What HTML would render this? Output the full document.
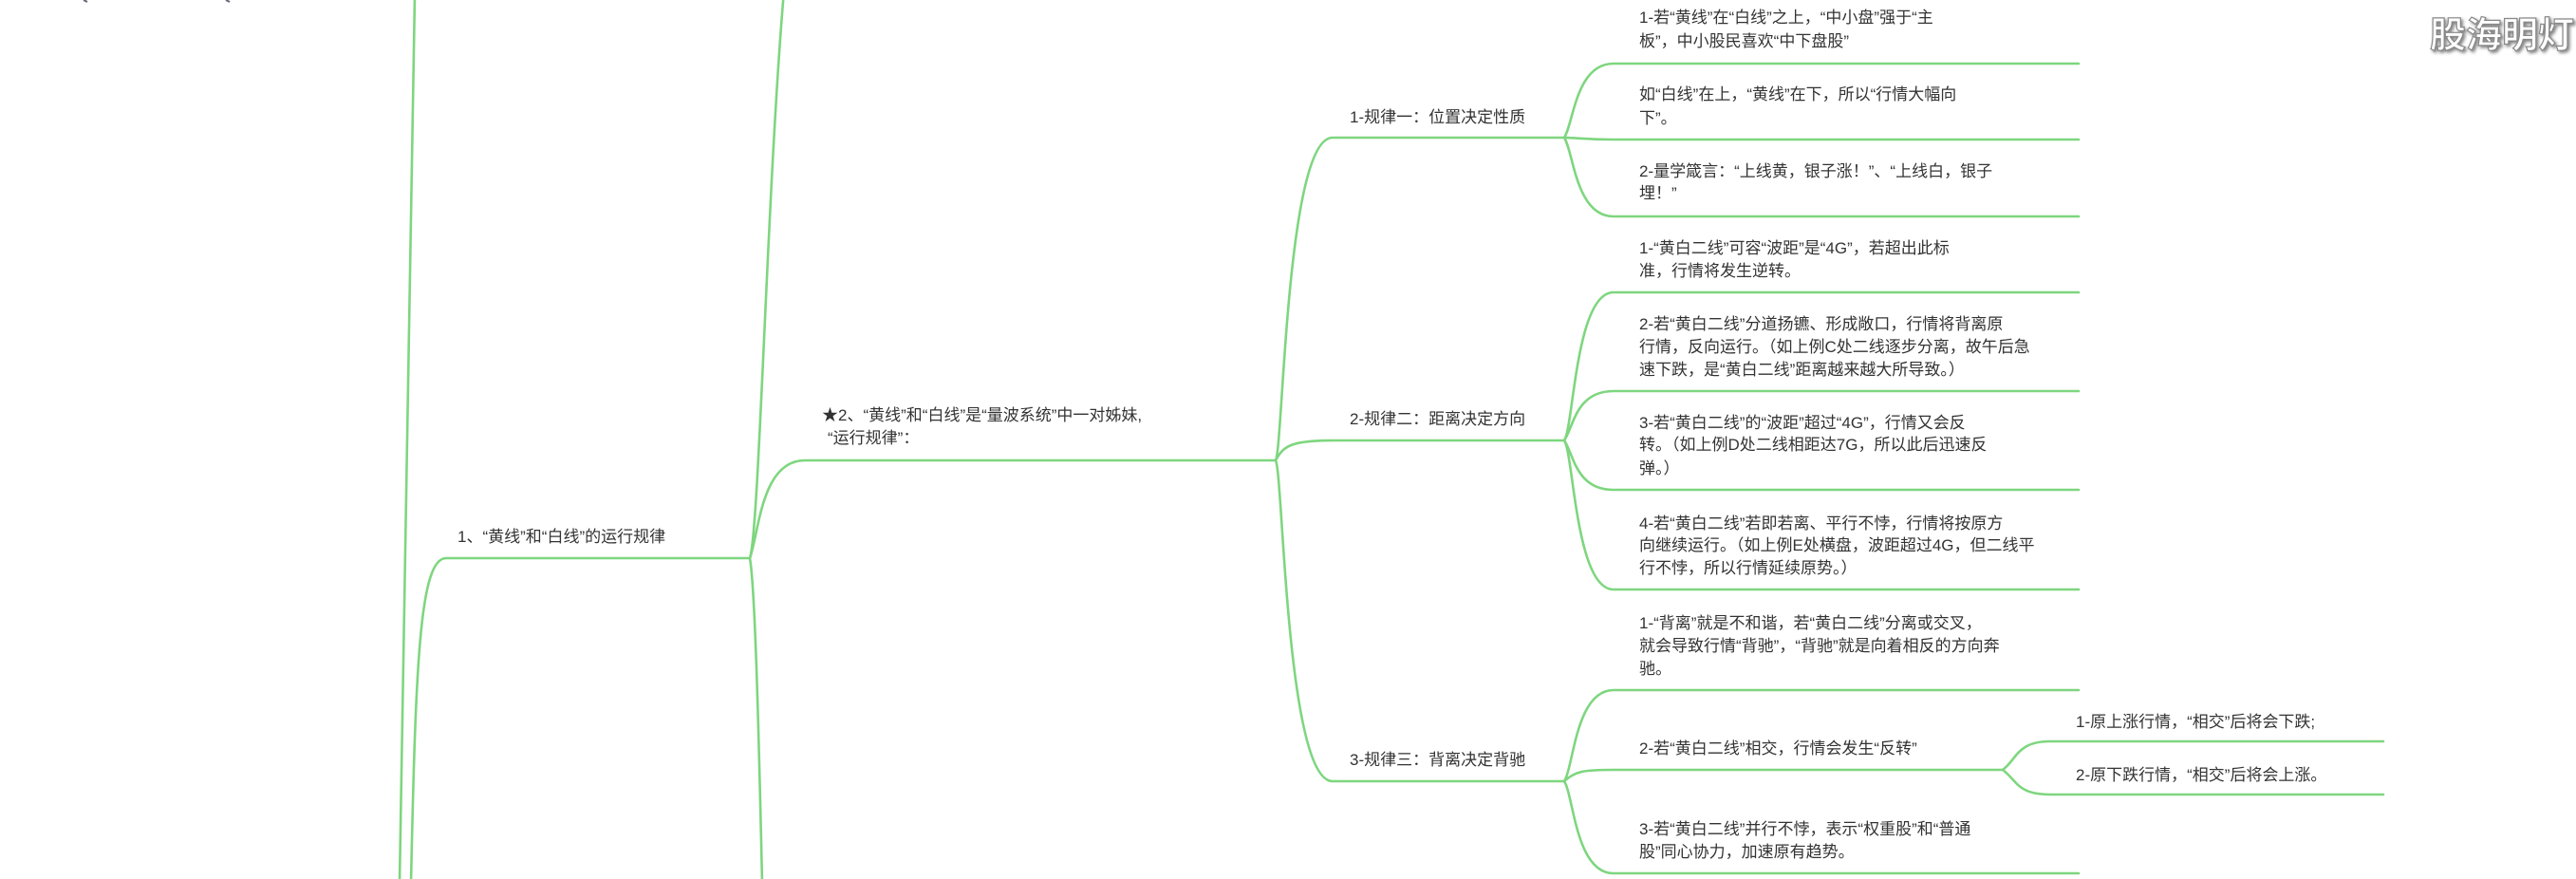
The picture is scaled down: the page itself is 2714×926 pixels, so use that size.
<!DOCTYPE html>
<html><head><meta charset="utf-8"><style>
html,body{margin:0;padding:0;background:#fff;}
svg{display:block;}
text{font-family:"Liberation Sans","Noto Sans CJK SC",sans-serif;font-size:17px;fill:#333;}
.logo{font-family:"Noto Sans CJK SC","WenQuanYi Zen Hei",sans-serif;font-size:38px;font-weight:bold;fill:#fff;stroke:#888;stroke-width:1.2px;}
</style></head><body>
<svg width="2714" height="926" viewBox="0 0 2714 926" xmlns="http://www.w3.org/2000/svg">
<defs><filter id="sh"><feDropShadow dx="2" dy="2" stdDeviation="1.5" flood-color="#666" flood-opacity="0.8"/></filter></defs>
<g fill="none" stroke="#7ed67f" stroke-width="2.6" stroke-linecap="round">
<!-- left trunk -->
<path d="M437 -5 L421 930"/>
<!-- node1 -->
<path d="M433 930 C438 700 442 588 470 588 L790 588"/>
<!-- node2 trunk -->
<path d="M790 588 C800 560 808 200 826 -10"/>
<path d="M790 588 C796 620 800 800 803 930"/>
<path d="M790 588 C800 560 802 485 848 485 L1344 485"/>
<!-- rules -->
<path d="M1344 485 C1352 470 1355 145 1404 145 L1648 145"/>
<path d="M1344 485 C1352 470 1360 464 1404 464 L1648 464"/>
<path d="M1344 485 C1352 500 1355 823 1404 823 L1648 823"/>
<!-- rule1 leaves -->
<path d="M1648 145 C1658 130 1660 67 1700 67 L2190 67"/>
<path d="M1648 145 C1660 145 1670 147 1700 147 L2190 147"/>
<path d="M1648 145 C1658 160 1660 228 1700 228 L2190 228"/>
<!-- rule2 leaves -->
<path d="M1648 464 C1658 450 1660 308 1700 308 L2190 308"/>
<path d="M1648 464 C1658 450 1660 412 1700 412 L2190 412"/>
<path d="M1648 464 C1658 478 1660 516 1700 516 L2190 516"/>
<path d="M1648 464 C1658 478 1660 621 1700 621 L2190 621"/>
<!-- rule3 leaves -->
<path d="M1648 823 C1658 808 1660 727 1700 727 L2190 727"/>
<path d="M1648 823 C1660 812 1670 811 1700 811 L2110 811"/>
<path d="M1648 823 C1658 838 1660 920 1700 920 L2190 920"/>
<!-- sub leaves -->
<path d="M2110 811 C2125 800 2125 781 2160 781 L2511 781"/>
<path d="M2110 811 C2125 822 2125 837 2160 837 L2511 837"/>
</g>
<text x="482" y="571">1、“黄线”和“白线”的运行规律</text>
<text x="866" y="443">★2、“黄线”和“白线”是“量波系统”中一对姊妹,</text>
<text x="872" y="467">“运行规律”：</text>
<text x="1422" y="129">1-规律一：位置决定性质</text>
<text x="1422" y="447">2-规律二：距离决定方向</text>
<text x="1422" y="806">3-规律三：背离决定背驰</text>

<text x="1727" y="24">1-若“黄线”在“白线”之上，“中小盘”强于“主</text>
<text x="1727" y="49">板”，中小股民喜欢“中下盘股”</text>
<text x="1727" y="105">如“白线”在上，“黄线”在下，所以“行情大幅向</text>
<text x="1727" y="130">下”。</text>
<text x="1727" y="186">2-量学箴言：“上线黄，银子涨！”、“上线白，银子</text>
<text x="1727" y="209">埋！”</text>

<text x="1727" y="267">1-“黄白二线”可容“波距”是“4G”，若超出此标</text>
<text x="1727" y="291">准，行情将发生逆转。</text>
<text x="1727" y="347">2-若“黄白二线”分道扬镳、形成敞口，行情将背离原</text>
<text x="1727" y="371">行情，反向运行。（如上例C处二线逐步分离，故午后急</text>
<text x="1727" y="395">速下跌，是“黄白二线”距离越来越大所导致。）</text>
<text x="1727" y="451">3-若“黄白二线”的“波距”超过“4G”，行情又会反</text>
<text x="1727" y="474">转。（如上例D处二线相距达7G，所以此后迅速反</text>
<text x="1727" y="499">弹。）</text>
<text x="1727" y="557">4-若“黄白二线”若即若离、平行不悖，行情将按原方</text>
<text x="1727" y="580">向继续运行。（如上例E处横盘，波距超过4G，但二线平</text>
<text x="1727" y="604">行不悖，所以行情延续原势。）</text>

<text x="1727" y="662">1-“背离”就是不和谐，若“黄白二线”分离或交叉，</text>
<text x="1727" y="686">就会导致行情“背驰”，“背驰”就是向着相反的方向奔</text>
<text x="1727" y="710">驰。</text>
<text x="1727" y="794">2-若“黄白二线”相交，行情会发生“反转”</text>
<text x="1727" y="879">3-若“黄白二线”并行不悖，表示“权重股”和“普通</text>
<text x="1727" y="903">股”同心协力，加速原有趋势。</text>

<text x="2187" y="766">1-原上涨行情，“相交”后将会下跌;</text>
<text x="2187" y="822">2-原下跌行情，“相交”后将会上涨。</text>

<text class="logo" x="2560" y="50" filter="url(#sh)">股海明灯</text>
<path d="M88 0 L92 2 M238 0 L242 2" stroke="#667" stroke-width="2"/>
</svg>
</body></html>
